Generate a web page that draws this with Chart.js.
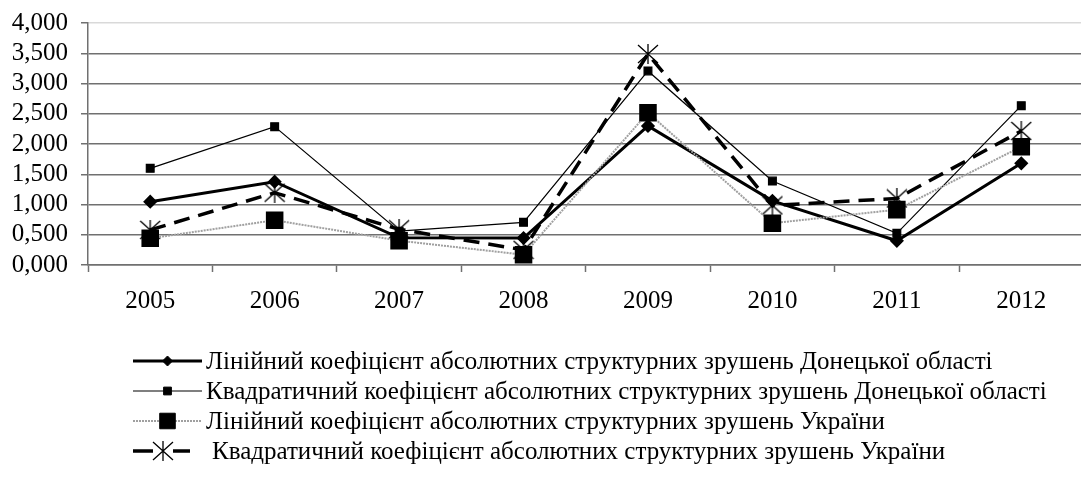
<!DOCTYPE html>
<html>
<head>
<meta charset="utf-8">
<script src="https://cdn.jsdelivr.net/npm/chart.js@4.4.1/dist/chart.umd.min.js"></script>
<style>
    html, body { margin: 0; padding: 0; background: #fff; overflow: hidden; }
    #wrap { width: 1097px; height: 485px; position: relative; }
</style>
</head>
<body>
<div id="wrap"><canvas id="chart"></canvas></div>
<script>
'use strict';

// 데이터
const years = ['2005', '2006', '2007', '2008', '2009', '2010', '2011', '2012'];
const linDonetsk = [1.046, 1.377, 0.450, 0.446, 2.298, 1.060, 0.400, 1.681];
const quadDonetsk = [1.598, 2.287, 0.560, 0.705, 3.207, 1.388, 0.523, 2.634];
const linUkraine = [0.441, 0.740, 0.402, 0.170, 2.518, 0.690, 0.915, 1.956];
const quadUkraine = [0.580, 1.195, 0.590, 0.250, 3.488, 0.985, 1.100, 2.215];
const legendNames = [
    'Лінійний коефіцієнт абсолютних структурних зрушень Донецької області',
    'Квадратичний коефіцієнт абсолютних структурних зрушень Донецької області',
    'Лінійний коефіцієнт абсолютних структурних зрушень України',
    'Квадратичний коефіцієнт абсолютних структурних зрушень України'
];
const yTicks = [0, 0.5, 1, 1.5, 2, 2.5, 3, 3.5, 4];

const FONT = '"Liberation Serif", "Times New Roman", serif';

// 별표 마커 (X + 세로선)
function makeStar() {
    const c = document.createElement('canvas');
    c.width = 22; c.height = 20;
    const g = c.getContext('2d');
    g.strokeStyle = '#000';
    g.lineWidth = 1.3;
    g.beginPath();
    g.moveTo(1, 1); g.lineTo(21, 19);
    g.moveTo(21, 1); g.lineTo(1, 19);
    g.moveTo(11, 0); g.lineTo(11, 20);
    g.stroke();
    return c;
}
const starImg = makeStar();

// 범례 그리기
const bottomLegend = {
    id: 'bottomLegend',
    afterDraw(chart) {
        const ctx = chart.ctx;
        const rows = [361, 391, 421, 451];
        ctx.save();
        ctx.font = '25px ' + FONT;
        ctx.textBaseline = 'middle';
        chart.data.datasets.forEach((ds, i) => {
            const y = rows[i];
            const x0 = 133;
            const x1 = i === 3 ? 190 : 202;
            ctx.save();
            ctx.strokeStyle = ds.borderColor;
            ctx.lineWidth = ds.borderWidth;
            ctx.setLineDash(i === 2 ? ds.borderDash : []);
            ctx.beginPath();
            if (i === 3) {
                ctx.moveTo(x0, y); ctx.lineTo(153, y);
                ctx.moveTo(173, y); ctx.lineTo(x1, y);
            } else {
                ctx.moveTo(x0, y); ctx.lineTo(x1, y);
            }
            ctx.stroke();
            ctx.restore();
            const cx = (x0 + x1) / 2;
            if (i === 3) {
                ctx.drawImage(starImg, 163 - 11, y - 10);
            } else {
                ctx.fillStyle = '#000';
                ctx.strokeStyle = '#000';
                Chart.helpers.drawPoint(ctx, {
                    pointStyle: ds.pointStyle,
                    radius: ds.legendRadius,
                    rotation: 0,
                    borderWidth: 1
                }, cx, y);
            }
            ctx.fillStyle = '#000';
            ctx.fillText(legendNames[i], i === 3 ? 212 : 206, y + 1);
        });
        ctx.restore();
    }
};

new Chart(document.getElementById('chart'), {
    type: 'line',
    data: {
        labels: years,
        datasets: [{
            label: legendNames[0],
            data: linDonetsk,
            borderColor: '#000',
            borderWidth: 3,
            pointStyle: 'rectRot',
            pointRadius: 5,
            legendRadius: 5,
            pointBackgroundColor: '#000',
            pointBorderColor: '#000',
            order: 1
        }, {
            label: legendNames[1],
            data: quadDonetsk,
            borderColor: '#000',
            borderWidth: 1.2,
            pointStyle: 'rect',
            pointRadius: 5.5,
            legendRadius: 5.5,
            pointBackgroundColor: '#000',
            pointBorderColor: '#000',
            order: 2
        }, {
            label: legendNames[2],
            data: linUkraine,
            borderColor: '#a0a0a0',
            borderWidth: 2,
            borderDash: [2, 1],
            pointStyle: 'rect',
            pointRadius: 11,
            legendRadius: 11,
            pointBackgroundColor: '#000',
            pointBorderColor: '#000',
            order: 0
        }, {
            label: legendNames[3],
            data: quadUkraine,
            borderColor: '#000',
            borderWidth: 3.5,
            borderDash: [16, 9],
            pointStyle: starImg,
            pointRadius: 10,
            order: 3
        }]
    },
    options: {
        responsive: true,
        maintainAspectRatio: false,
        animation: false,
        layout: { padding: { top: 23, right: 0, bottom: 150, left: 0 } },
        plugins: {
            legend: { display: false },
            tooltip: { enabled: false }
        },
        elements: { line: { tension: 0 } },
        scales: {
            x: {
                offset: true,
                grid: {
                    offset: true,
                    drawOnChartArea: false,
                    drawTicks: true,
                    tickLength: 7,
                    tickColor: '#707070',
                    tickWidth: 1.5
                },
                border: { color: '#707070', width: 1.5 },
                ticks: {
                    color: '#000',
                    font: { family: FONT, size: 25 },
                    padding: 14,
                    maxRotation: 0
                },
                afterFit(scale) {
                    scale.height = 70;
                    scale.paddingLeft = 0;
                    scale.paddingRight = 0;
                }
            },
            y: {
                min: 0,
                max: 4,
                afterBuildTicks(scale) {
                    scale.ticks = yTicks.map(v => ({ value: v }));
                },
                grid: {
                    color: ctx => (ctx.tick && ctx.tick.value === 4 ? '#d9d9d9' : '#707070'),
                    lineWidth: 1.5,
                    tickLength: 7,
                    tickColor: '#707070'
                },
                border: { color: '#707070', width: 1.5 },
                ticks: {
                    color: '#000',
                    autoSkip: false,
                    font: { family: FONT, size: 25 },
                    padding: 13,
                    callback: v => Number(v).toFixed(3).replace('.', ',')
                },
                afterFit(scale) {
                    scale.width = 88;
                    scale.paddingTop = 0;
                    scale.paddingBottom = 0;
                }
            }
        }
    },
    plugins: [bottomLegend]
});
</script>
</body>
</html>
